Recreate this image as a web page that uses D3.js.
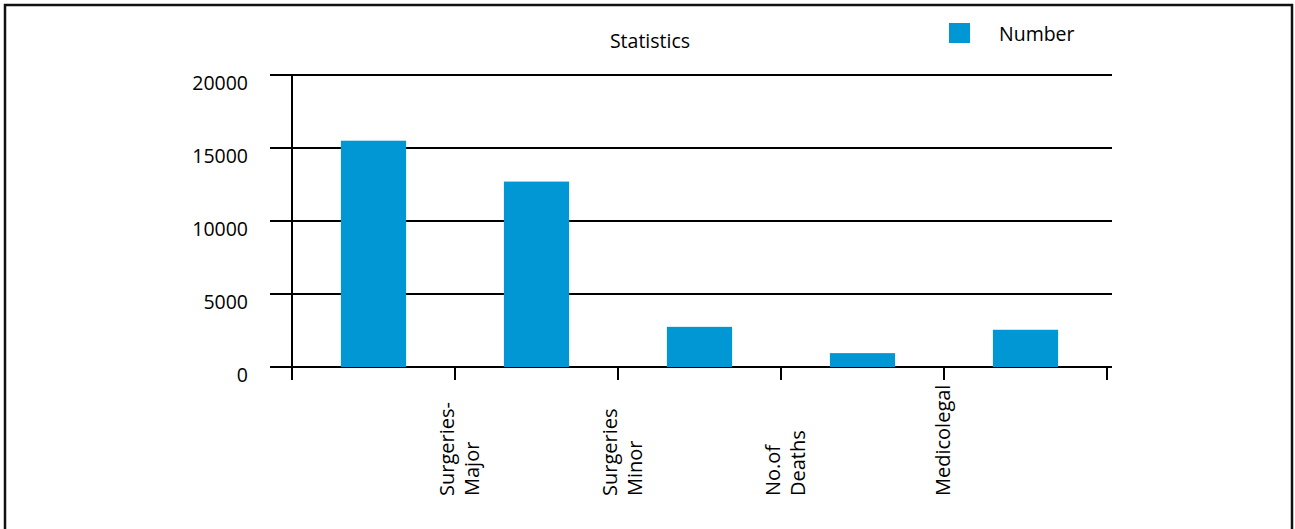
<!DOCTYPE html>
<html>
<head>
<meta charset="utf-8">
<script src="https://cdn.jsdelivr.net/npm/d3@7"></script>
<style>
  html, body { margin: 0; padding: 0; background: #fff; }
  svg { display: block; font-family: "Open Sans", "Noto Sans", sans-serif; }
</style>
</head>
<body>
<svg id="chart" width="1295" height="529"></svg>
<script>
// ---- data ----
const title = "Statistics";
const seriesName = "Number";
const values = [15500, 12700, 2750, 950, 2550];
const categoryLabels = [["Surgeries-", "Major"], ["Surgeries", "Minor"], ["No.of", "Deaths"], ["Medicolegal"]];
const yTicks = [0, 5000, 10000, 15000, 20000];
const barColor = "#0097d4";

// ---- layout ----
const svg = d3.select("#chart");
const x0 = 292, x1 = 1107, yTop = 75, yBottom = 367;
const fs = 19.5;

svg.append("rect")
  .attr("x", 5).attr("y", 5).attr("width", 1287).attr("height", 540)
  .attr("fill", "none").attr("stroke", "#111").attr("stroke-width", 2.5);

const x = d3.scaleLinear().domain([0, values.length]).range([x0, x1]);
const y = d3.scaleLinear().domain([0, 20000]).range([yBottom, yTop]);
const step = x(1) - x(0);
const barW = step * 0.4;

// gridlines
svg.append("g").selectAll("line").data(yTicks).join("line")
  .attr("x1", 270).attr("x2", 1112)
  .attr("y1", d => y(d)).attr("y2", d => y(d))
  .attr("stroke", "#000").attr("stroke-width", 2);

// y labels
svg.append("g").selectAll("text").data(yTicks).join("text")
  .attr("x", 248).attr("y", d => y(d) + 14.5)
  .attr("text-anchor", "end").attr("font-size", fs).attr("fill", "#000")
  .text(d => d);

// bars
svg.append("g").selectAll("rect").data(values).join("rect")
  .attr("x", (d, i) => x(i + 0.5) - barW / 2)
  .attr("width", barW)
  .attr("y", d => y(d))
  .attr("height", d => y(0) - y(d))
  .attr("fill", barColor);

// y axis line
svg.append("line").attr("x1", x0).attr("x2", x0).attr("y1", yTop).attr("y2", yBottom + 13)
  .attr("stroke", "#000").attr("stroke-width", 2);

// x axis ticks
svg.append("g").selectAll("line").data(d3.range(values.length + 1)).join("line")
  .attr("x1", d => x(d)).attr("x2", d => x(d))
  .attr("y1", yBottom).attr("y2", yBottom + 13)
  .attr("stroke", "#000").attr("stroke-width", 2);

// x labels (rotated, at tick positions)
const lab = svg.append("g").selectAll("text").data(categoryLabels).join("text")
  .attr("transform", (d, i) => `translate(${x(i + 1)},496) rotate(-90)`)
  .attr("font-size", 20).attr("fill", "#000").attr("text-anchor", "start");
lab.each(function(d) {
  const t = d3.select(this);
  const n = d.length;
  d.forEach((line, j) => {
    t.append("tspan").attr("x", 0)
      .attr("y", n === 1 ? 6 : (j === 0 ? -1 : 23.5))
      .text(line);
  });
});

// title
svg.append("text").attr("x", 650).attr("y", 48).attr("text-anchor", "middle")
  .attr("font-size", fs).attr("fill", "#000").text(title);

// legend
svg.append("rect").attr("x", 949).attr("y", 23).attr("width", 21).attr("height", 20).attr("fill", barColor);
svg.append("text").attr("x", 999).attr("y", 41).attr("font-size", fs).attr("fill", "#000").text(seriesName);
</script>
</body>
</html>
